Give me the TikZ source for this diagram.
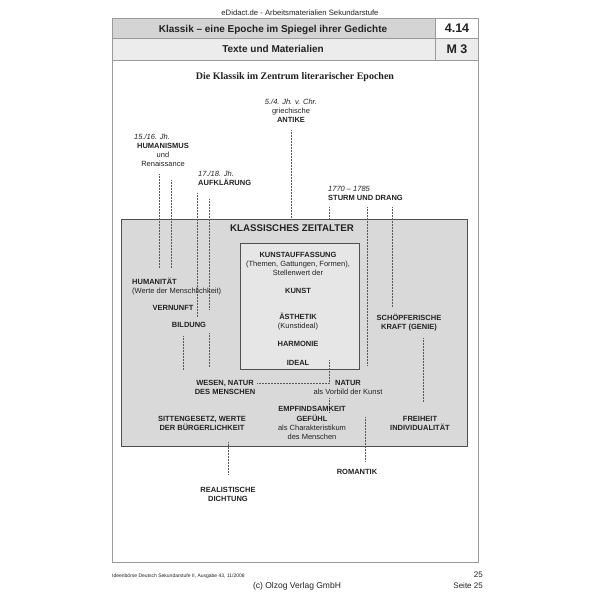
\documentclass[tikz,border=0pt]{standalone}
\usepackage{fontspec}
\setmainfont{Liberation Sans}
\newfontfamily\tserif{Liberation Serif}
\definecolor{hdA}{HTML}{D4D4D4}
\definecolor{hdB}{HTML}{ECECEC}
\definecolor{frm}{HTML}{9A9A9A}
\definecolor{boxA}{HTML}{D9D9D9}
\definecolor{boxB}{HTML}{E6E6E6}
\definecolor{edge}{HTML}{505050}
\definecolor{txt}{HTML}{222222}
\begin{document}
\begin{tikzpicture}[x=1pt,y=-1pt,
  every node/.style={inner sep=0pt,text=txt},
  lb/.style={align=center,anchor=base,font=\fontsize{7.5}{9}\selectfont\bfseries},
  lr/.style={align=center,anchor=base,font=\fontsize{7.5}{9}\selectfont},
  hd/.style={anchor=base,font=\fontsize{10}{12}\selectfont\bfseries},
  num/.style={anchor=base,font=\fontsize{12.5}{14}\selectfont\bfseries},
  frame/.style={draw=frm,line width=0.8pt},
  dl/.style={draw=gray!70!black,densely dotted,line width=0.5pt}]
\useasboundingbox (0,0) rectangle (600,600);
\fill[white] (0,0) rectangle (600,600);
% header table
\fill[hdA] (112,18) rectangle (435,38);
\fill[hdB] (112,38) rectangle (478,60);
\draw[frame] (112,18) rectangle (478,562);
\draw[frame] (112,38) -- (478,38) (112,60) -- (478,60) (435,18) -- (435,60);
\node[anchor=base,font=\fontsize{7.7}{9}\selectfont] (site) at (300,15.8) {eDidact.de - Arbeitsmaterialien Sekundarstufe};
\node[hd] (head1) at (273,32) {Klassik – eine Epoche im Spiegel ihrer Gedichte};
\node[hd] (head2) at (273,52.6) {Texte und Materialien};
\node[num] (n1) at (457,32.5) {4.14};
\node[num] (n2) at (457,53.5) {M 3};
% title
\node[anchor=base,font=\tserif\fontsize{10}{12}\selectfont\bfseries] (title) at (295,79) {Die Klassik im Zentrum literarischer Epochen};
% coordinates for dotted lines
\coordinate (a1) at (159,174); \coordinate (a2) at (159,268);
\coordinate (b1) at (171,180); \coordinate (b2) at (171,268);
\coordinate (c1) at (197,193); \coordinate (c2) at (197,317);
\coordinate (d1) at (209,199); \coordinate (d2) at (209,310);
\coordinate (d3) at (209,333); \coordinate (d4) at (209,367);
\coordinate (e1) at (183,336); \coordinate (e2) at (183,370);
\coordinate (f1) at (291,130); \coordinate (f2) at (291,219);
\coordinate (g1) at (329,207); \coordinate (g2) at (329,219);
\coordinate (g3) at (329,360); \coordinate (g4) at (329,383);
\coordinate (g5) at (257,383);
\coordinate (g6) at (329,398); \coordinate (g7) at (329,413);
\coordinate (h1) at (367,207); \coordinate (h2) at (367,365);
\coordinate (i1) at (392,207); \coordinate (i2) at (392,307);
\coordinate (j1) at (423,338); \coordinate (j2) at (423,402);
\coordinate (k1) at (365,417); \coordinate (k2) at (365,462);
\coordinate (l1) at (228,442); \coordinate (l2) at (228,474);
% main boxes
\node[draw=edge,fill=boxA,line width=0.9pt,minimum width=346pt,minimum height=227pt,anchor=north west] (outer) at (121,219) {};
\node[draw=edge,fill=boxB,line width=0.9pt,minimum width=119pt,minimum height=126pt,anchor=north west] (inner) at (240,243) {};
% dotted connectors
\draw[dl] (a1) -- (a2);
\draw[dl] (b1) -- (b2);
\draw[dl] (c1) -- (c2);
\draw[dl] (d1) -- (d2);
\draw[dl] (d3) -- (d4);
\draw[dl] (e1) -- (e2);
\draw[dl] (f1) -- (f2);
\draw[dl] (g1) -- (g2);
\draw[dl] (g3) -- (g4) -- (g5);
\draw[dl] (g6) -- (g7);
\draw[dl] (h1) -- (h2);
\draw[dl] (i1) -- (i2);
\draw[dl] (j1) -- (j2);
\draw[dl] (k1) -- (k2);
\draw[dl] (l1) -- (l2);
% epochs above (multi-line nodes: base = last line)
\node[lr] (antike) at (291,122.7) {\itshape 5./4. Jh. v. Chr.\\griechische\\\textbf{ANTIKE}};
\node[lr,anchor=base west] (hum0) at (134,139.7) {\itshape 15./16. Jh.};
\node[lr] (hum) at (163,166.2) {\textbf{HUMANISMUS}\\und\\Renaissance};
\node[lr,anchor=base west,align=left] (aufk) at (198,185.7) {\itshape 17./18. Jh.\\\textbf{AUFKLÄRUNG}};
\node[lr,anchor=base west,align=left] (sturm) at (328,200.7) {\itshape 1770 – 1785\\\textbf{STURM UND DRANG}};
% inside
\node[anchor=base,font=\fontsize{9.7}{11}\selectfont\bfseries] (klass) at (292,231.5) {KLASSISCHES ZEITALTER};
\node[lr] (kunst1) at (298,275.7) {\textbf{KUNSTAUFFASSUNG}\\(Themen, Gattungen, Formen),\\Stellenwert der};
\node[lb] (kunst2) at (298,293.7) {KUNST};
\node[lr] (aesth) at (298,328.7) {\textbf{ÄSTHETIK}\\(Kunstideal)};
\node[lb] (harm) at (298,346.2) {HARMONIE};
\node[lb] (ideal) at (298,365.2) {IDEAL};
\node[lr,anchor=base west,align=left] (human) at (132,293.7) {\textbf{HUMANITÄT}\\(Werte der Menschlichkeit)};
\node[lb] (vern) at (173,310.2) {VERNUNFT};
\node[lb] (bild) at (189,327.2) {BILDUNG};
\node[lb] (schoepf) at (409,329.7) {SCHÖPFERISCHE\\KRAFT (GENIE)};
\node[lb] (wesen) at (225,394.7) {WESEN, NATUR\\DES MENSCHEN};
\node[lr] (natur) at (348,394.7) {\textbf{NATUR}\\als Vorbild der Kunst};
\node[lr,font=\fontsize{7.5}{9.3}\selectfont] (empf) at (312,439.6) {\textbf{EMPFINDSAMKEIT}\\\textbf{GEFÜHL}\\als Charakteristikum\\des Menschen};
\node[lb] (sitte) at (202,430.7) {SITTENGESETZ, WERTE\\DER BÜRGERLICHKEIT};
\node[lb] (frei) at (420,430.7) {FREIHEIT\\INDIVIDUALITÄT};
% below
\node[lb] (roman) at (357,474.7) {ROMANTIK};
\node[lb] (real) at (228,501.7) {REALISTISCHE\\DICHTUNG};
% footer
\node[anchor=base west,font=\fontsize{5}{6}\selectfont] (foot1) at (112,577) {Ideenbörse Deutsch Sekundarstufe II, Ausgabe 43, 11/2008};
\node[anchor=base,font=\fontsize{8.5}{10}\selectfont] (foot2) at (297,588.5) {(c) Olzog Verlag GmbH};
\node[anchor=base east,font=\fontsize{8}{10}\selectfont] (foot3) at (483,577.5) {25};
\node[anchor=base east,font=\fontsize{8}{10}\selectfont] (foot4) at (483,588.5) {Seite 25};
\end{tikzpicture}
\end{document}
